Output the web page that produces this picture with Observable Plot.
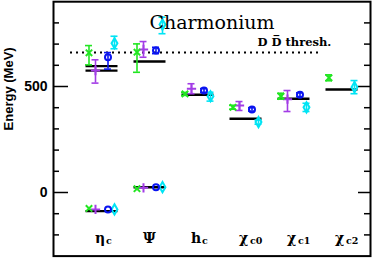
<!DOCTYPE html>
<html><head><meta charset="utf-8">
<script src="https://cdn.jsdelivr.net/npm/d3@7"></script>
<script src="https://cdn.jsdelivr.net/npm/@observablehq/plot@0.6"></script>
<style>body{margin:0;background:#fff} svg{display:block}</style>
</head><body><div id="chart"></div>
<script>
// categories (x groups)
const categories = ["η", "Ψ", "h", "χ", "χ", "χ"];
const categorySubs = ["c", "", "c", "c0", "c1", "c2"];
// states: η_c(1S), J/ψ, η_c(2S), ψ(2S), h_c, χc0, χc1, χc2
const stateCategory = [0, 1, 0, 1, 2, 3, 4, 5];

// lattice results (MeV), central value, lower and upper error limits
const greenVal = [-75, 18, 659, 662, 465, 402, 454, 541];
const greenLo  = [-75, 18, 602, 567, 458, 393, 440, 527];
const greenHi  = [-75, 18, 693, 701, 472, 411, 468, 555];

const purpleVal = [-80, 22, 575, 675, 489, 410, 440, null];
const purpleLo  = [-80, 22, 516, 638, 466, 387, 382, null];
const purpleHi  = [-80, 22, 626, 712, 513, 429, 481, null];

const blueVal = [-80, 25, 638, 670, 481, 392, 461, null];
const blueLo  = [-80, 25, 582, 655, 472, 384, 452, null];
const blueHi  = [-80, 25, 660, 685, 490, 400, 470, null];

const cyanVal = [-80, 25, 704, 792, 454, 332, 402, 497];
const cyanLo  = [-80, 25, 678, 749, 431, 322, 382, 466];
const cyanHi  = [-80, 25, 737, 827, 473, 342, 421, 528];

// experiment (black lines)
const expCategory = [0, 1, 0, 0, 1, 2, 3, 4, 5];
const expVal = [-88, 25, 596, 575, 618, 461, 348, 442, 486];

const threshold = 660;
const thresholdLabel = "D D\u0305 thresh.";
const title = "Charmonium";
const yLabel = "Energy (MeV)";
const yTickLabels = [0, 500];
const yMinorTicks = [-200, -100, 100, 200, 300, 400, 600, 700, 800];

// ---- layout ----
const PX = 48; // px per category unit
const xDomain = [-1.0104, 5.594];
const series = [
  {val: greenVal, lo: greenLo, hi: greenHi, color: "#22e622", symbol: "times", off: -13, r: 3.2},
  {val: purpleVal, lo: purpleLo, hi: purpleHi, color: "#a33ce6", symbol: "plus", off: -6.5, r: 3.4},
  {val: blueVal, lo: blueLo, hi: blueHi, color: "#0a14f0", symbol: "circle", off: 6, r: 3.2},
  {val: cyanVal, lo: cyanLo, hi: cyanHi, color: "#00e4f4", symbol: "diamond", off: 12.5, r: 3.4}
];
const pts = [];
series.forEach((s, si) => s.val.forEach((v, i) => {
  if (v == null) return;
  pts.push({x: stateCategory[i] + s.off / PX, y: v, lo: s.lo[i], hi: s.hi[i], color: s.color, symbol: s.symbol, r: s.r, si});
}));
const bars = pts.filter(d => d.hi - d.lo > 0);
const cap = 3.5 / PX;
const exp = expVal.map((v, i) => ({x: expCategory[i], y: v}));
const half = 16 / PX;
const xL = xDomain[0], xR = xDomain[1];
const ticks = [
  ...yMinorTicks.map(v => ({y: v, x1: xL, x2: xL + 6 / PX})),
  ...yTickLabels.map(v => ({y: v, x1: xL, x2: xL + 15 / PX})),
  ...yMinorTicks.map(v => ({y: v, x1: xR - 6 / PX, x2: xR})),
  ...yTickLabels.map(v => ({y: v, x1: xR - 12 / PX, x2: xR}))
];
const cats = categories.map((c, i) => ({x: i, base: c, sub: categorySubs[i]}));

const marks = [
  Plot.ruleY(ticks, {y: "y", x1: "x1", x2: "x2", stroke: "black", strokeWidth: 1.5}),
  Plot.ruleY([threshold], {x1: -0.656, x2: 4.594, stroke: "black", strokeWidth: 2, strokeDasharray: "2,4"}),
  Plot.ruleY(exp, {y: "y", x1: d => d.x - half, x2: d => d.x + half, stroke: "black", strokeWidth: 2.4}),
  Plot.ruleX(bars, {x: "x", y1: "lo", y2: "hi", stroke: "color", strokeWidth: 1.6}),
  Plot.ruleY(bars, {y: "lo", x1: d => d.x - cap, x2: d => d.x + cap, stroke: "color", strokeWidth: 1.6}),
  Plot.ruleY(bars, {y: "hi", x1: d => d.x - cap, x2: d => d.x + cap, stroke: "color", strokeWidth: 1.6}),
  Plot.dot(pts, {x: "x", y: "y", symbol: "symbol", r: "r", stroke: "color", strokeWidth: 2, fill: "none"}),
  Plot.text([title], {frameAnchor: "top", dy: 14, text: d => d, fontFamily: "DejaVu Serif", fontSize: 19, fill: "black"}),
  Plot.text([thresholdLabel], {x: 3.24, y: 710, text: d => d, textAnchor: "start", fontFamily: "DejaVu Serif", fontWeight: "bold", fontSize: 11.5, fill: "black"}),
  Plot.text(yTickLabels, {frameAnchor: "left", y: d => d, text: d => String(d), textAnchor: "end", dx: -6, fontFamily: "Liberation Sans", fontWeight: "bold", fontSize: 14, fill: "black"}),
  Plot.text([yLabel], {frameAnchor: "left", text: d => d, rotate: -90, dx: -44.5, dy: 1.5, fontFamily: "Liberation Sans", fontWeight: "bold", fontSize: 13, fill: "black"}),
  Plot.text(cats, {x: "x", y: -215, text: "base", textAnchor: "start", dx: -7, fontFamily: "DejaVu Serif", fontWeight: "bold", fontSize: 14, fill: "black"}),
  Plot.text(cats, {x: "x", y: -215, text: "sub", textAnchor: "start", dx: 4, dy: 3, fontFamily: "DejaVu Serif", fontWeight: "bold", fontSize: 9.5, fill: "black"}),
  Plot.frame({stroke: "black", strokeWidth: 2})
];

const chart = Plot.plot({
  width: 374, height: 258,
  marginLeft: 53, marginRight: 4, marginTop: 1.2, marginBottom: 2.4,
  x: {domain: xDomain, axis: null},
  y: {domain: [-300, 900], axis: null},
  marks
});
document.getElementById("chart").appendChild(chart);
</script>
</body></html>
